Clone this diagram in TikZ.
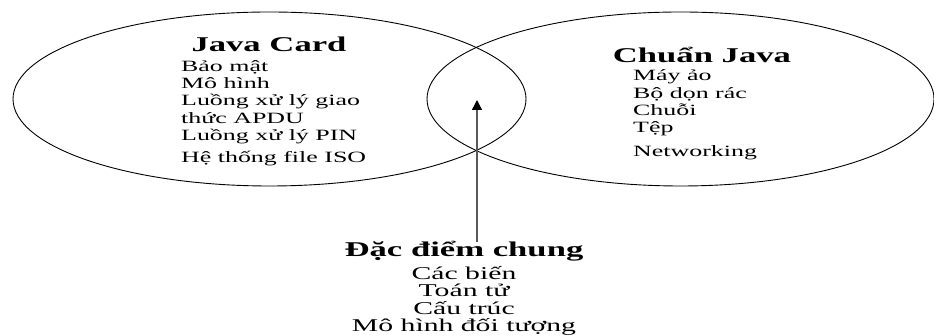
\documentclass[tikz,border=0pt]{standalone}
\usepackage{fontspec}
\setmainfont{Liberation Serif}[FakeStretch=1.65]
\usetikzlibrary{arrows.meta}

\begin{document}
\begin{tikzpicture}[x=1pt,y=1pt,inner sep=0pt,
  ring/.style={draw=black,line width=0.9pt},
  head/.style={font=\fontsize{21}{24}\selectfont\bfseries},
  entry/.style={font=\fontsize{15.7}{18}\selectfont},
  bigentry/.style={font=\fontsize{18}{20}\selectfont},
  pointer/.style={-{Triangle[width=10pt,length=10pt,black]},draw=black!65,line width=1.3pt}]
\useasboundingbox (0,0) rectangle (934,336);
% the two sets
\draw[ring] (269.5,237) ellipse [x radius=256.5, y radius=87];
\draw[ring] (680.5,237) ellipse [x radius=253.5, y radius=87];
% Java Card
\node[head,anchor=base] (jcard) at (269,284.3) {Java Card};
\foreach \txt/\yy [count=\i] in {Bảo mật/264.3, Mô hình/247.7, Luồng xử lý giao/230,
    thức APDU/212, Luồng xử lý PIN/195, Hệ thống file ISO/173.3}
  \node[entry,anchor=base west] (jc\i) at (181,\yy) {\txt};
% standard Java
\node[head,anchor=base] (sjava) at (702,273.7) {Chuẩn Java};
\foreach \txt/\yy [count=\i] in {Máy ảo/255, Bộ dọn rác/237, Chuỗi/220.3,
    Tệp/203.3, Networking/179.3}
  \node[entry,anchor=base west] (sj\i) at (633,\yy) {\txt};
% common part
\node[head,anchor=base] (common) at (464,79.3) {Đặc điểm chung};
\foreach \txt/\yy [count=\i] in {Các biến/56, Toán tử/39, Cấu trúc/21,
    Mô hình đối tượng/4.3}
  \node[bigentry,anchor=base] (cm\i) at (464,\yy) {\txt};
\coordinate (foot) at (477,94);
\coordinate (tip) at (477,236);
\draw[pointer] (foot) -- (tip);
\end{tikzpicture}
\end{document}
